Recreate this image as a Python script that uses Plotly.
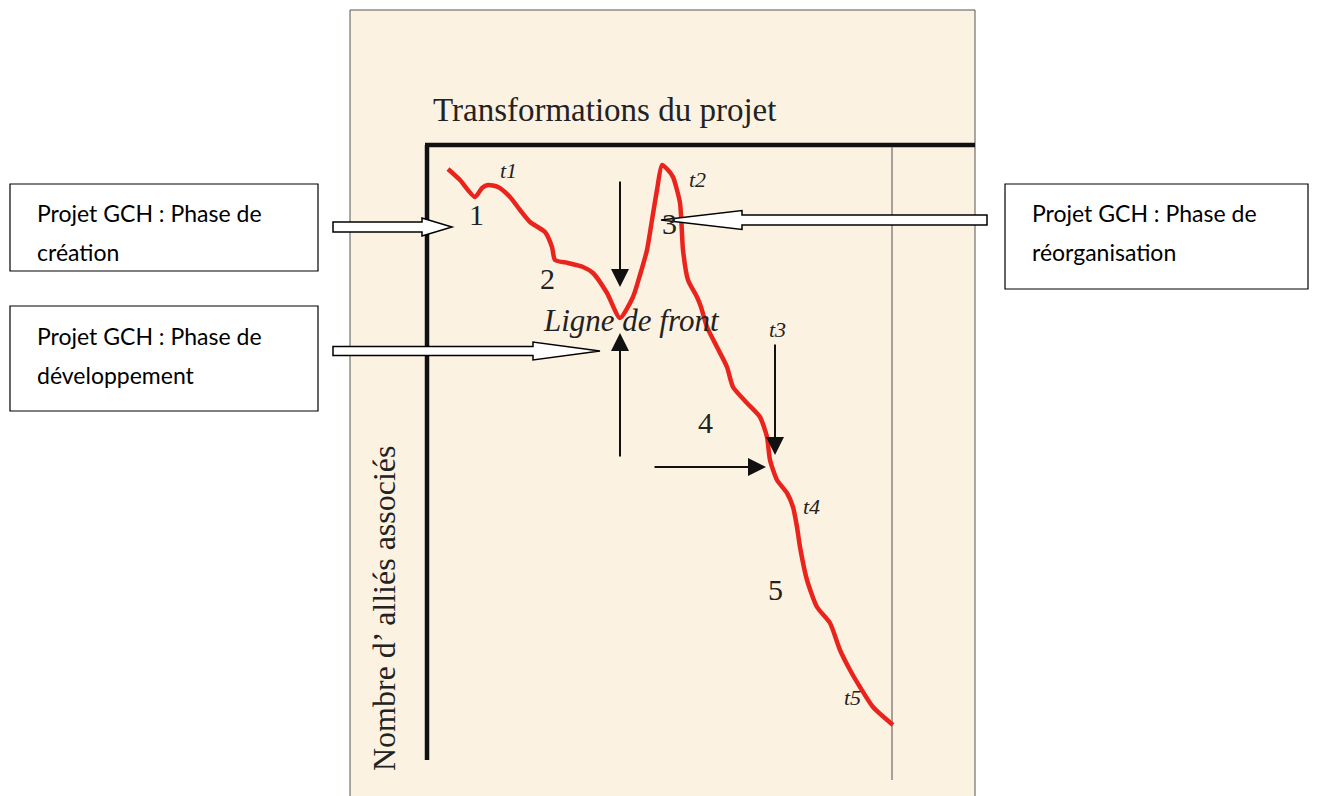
import plotly.graph_objects as go

# courbe rouge (repere en pixels de la page)
curve_x = [448, 460, 475, 482, 488, 498, 510, 520, 530, 545, 552, 555, 568, 583, 593, 607, 620,
           633, 640, 647, 652, 657, 662, 668, 673, 680, 683, 688, 697, 701, 707, 717, 727, 733,
           747, 760, 767, 770, 777, 787, 793, 797, 800, 807, 817, 830, 840, 850, 860, 873, 893]
curve_y = [169, 180, 197, 188, 185, 187, 197, 210, 222, 232, 247, 260, 263, 267, 273, 293, 318,
           297, 275, 250, 220, 190, 165, 170, 177, 203, 250, 280, 297, 307, 327, 347, 367, 387,
           403, 417, 437, 460, 480, 493, 507, 527, 547, 580, 607, 623, 650, 670, 687, 707, 725]

phase_labels = ["1", "2", "3", "4", "5"]
phase_x = [476, 547, 669, 705, 775]
phase_y = [214, 278, 223, 422, 589]

time_labels = ["t1", "t2", "t3", "t4", "t5"]
time_x = [508, 697, 777, 811, 852]
time_y = [170, 179, 329, 506, 697]

box_lines = [["Projet GCH : Phase de", "création"],
             ["Projet GCH : Phase de", "développement"],
             ["Projet GCH : Phase de", "réorganisation"]]

title = "Transformations du projet"
ylabel = "Nombre d\u2019 alliés associés"
front_label = "Ligne de front"

BEIGE = "#fcf2e2"
RED = "#ea241c"
SERIF = "Liberation Serif"
SANS = "Lato"

fig = go.Figure()
fig.add_trace(go.Scatter(x=curve_x, y=curve_y, mode="lines",
                         line=dict(color=RED, width=4.5, shape="spline", smoothing=0.6),
                         hoverinfo="skip", showlegend=False))

shapes = []
# panneau beige
shapes.append(dict(type="rect", x0=350, x1=975, y0=10, y1=800, fillcolor=BEIGE,
                   line=dict(color="#555", width=1), layer="below"))
# axes epais
shapes.append(dict(type="line", x0=427, x1=427, y0=145, y1=760, line=dict(color="#111", width=4.5), layer="below"))
shapes.append(dict(type="line", x0=425, x1=975, y0=145, y1=145, line=dict(color="#111", width=4.5), layer="below"))
# ligne fine a droite
shapes.append(dict(type="line", x0=892, x1=892, y0=147, y1=780, line=dict(color="#8a8580", width=1.5), layer="below"))

# cadres de texte
boxes = [(10, 318, 184, 271), (10, 318, 306, 411), (1005, 1308, 184, 289)]
for x0, x1, y0, y1 in boxes:
    shapes.append(dict(type="rect", x0=x0, x1=x1, y0=y0, y1=y1, fillcolor="white",
                       line=dict(color="black", width=1.2)))


def block_arrow(tail, base, tip, y, sh, hh):
    return ("M {t},{a} L {b},{a} L {b},{c} L {p},{y} L {b},{d} L {b},{e} L {t},{e} Z"
            .format(t=tail, b=base, p=tip, y=y, a=y - sh, e=y + sh, c=y - hh, d=y + hh))


for args in [(333, 422, 452, 227, 5, 9), (333, 533, 600, 351, 4.5, 9), (987, 742, 661, 220, 5, 9.5)]:
    shapes.append(dict(type="path", path=block_arrow(*args), fillcolor="white",
                       line=dict(color="black", width=1.5)))

annotations = []
# fleches noires
for (x, y, ax, ay) in [(620, 287, 620, 180), (620, 333, 620, 458), (766, 467, 653, 467), (775, 455, 775, 343)]:
    annotations.append(dict(x=x, y=y, ax=ax, ay=ay, xref="x", yref="y", axref="x", ayref="y",
                            text="", showarrow=True, arrowhead=2, arrowsize=1.8, arrowwidth=2,
                            arrowcolor="#111"))

annotations.append(dict(x=604, y=110, text=title, showarrow=False,
                        font=dict(family=SERIF, size=33, color="#222")))
annotations.append(dict(x=384, y=608, text=ylabel, showarrow=False, textangle=-90,
                        font=dict(family=SERIF, size=32, color="#222")))
annotations.append(dict(x=631, y=320, text="<i>" + front_label + "</i>", showarrow=False,
                        font=dict(family=SERIF, size=31, color="#222")))

for t, x, y in zip(phase_labels, phase_x, phase_y):
    annotations.append(dict(x=x, y=y, text=t, showarrow=False,
                            font=dict(family=SERIF, size=30, color="#222")))
for t, x, y in zip(time_labels, time_x, time_y):
    annotations.append(dict(x=x, y=y, text="<i>" + t + "</i>", showarrow=False,
                            font=dict(family=SERIF, size=22, color="#222")))

text_pos = [(35, 213, 252), (35, 336, 375), (1030, 213, 252)]
for lines, (x, y1, y2) in zip(box_lines, text_pos):
    for line, y in zip(lines, [y1, y2]):
        annotations.append(dict(x=x, y=y, text=line, showarrow=False, xanchor="left",
                                font=dict(family=SANS, size=23, color="black")))

fig.update_layout(
    width=1317, height=796,
    margin=dict(l=0, r=0, t=0, b=0),
    paper_bgcolor="white", plot_bgcolor="white",
    xaxis=dict(range=[0, 1317], visible=False, fixedrange=True),
    yaxis=dict(range=[796, 0], visible=False, fixedrange=True),
    shapes=shapes, annotations=annotations,
)

fig.write_html("out.html", config={"displayModeBar": False},
               post_script="document.body.style.margin='0px';")
